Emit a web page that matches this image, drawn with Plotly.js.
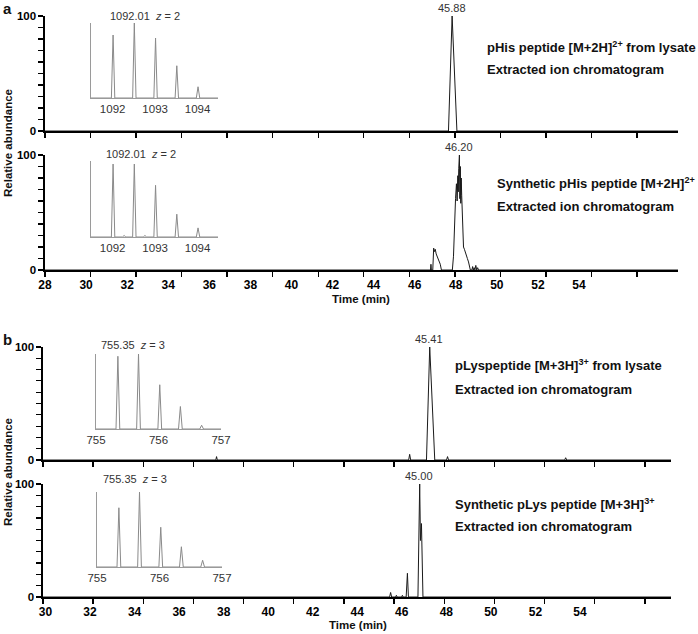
<!DOCTYPE html>
<html><head><meta charset="utf-8">
<script src="https://cdn.plot.ly/plotly-3.0.1.min.js"></script>
<style>html,body{margin:0;padding:0;background:#fff}#chart{width:698px;height:634px}</style>
</head><body><div id="chart"></div>
<script>
// ---------- data ----------
// Panel a: pHis peptide extracted ion chromatograms (time in min, relative abundance %)
const aTopTime  = [28, 45.72, 45.88, 46.09, 55.8];
const aTopAbund = [0, 0, 100, 0, 0];

const aBotTime  = [28, 44.93, 44.95, 44.97, 45.03, 45.07, 45.10, 45.14, 45.18, 45.22, 45.29, 45.36, 45.41,
                   45.89, 45.94, 45.98, 46.03, 46.07, 46.10, 46.13, 46.15, 46.17, 46.20, 46.22, 46.24, 46.26,
                   46.28, 46.30, 46.32, 46.35, 46.38, 46.42, 46.46, 46.50, 46.55, 46.60, 46.64, 46.68,
                   46.75, 46.78, 46.81, 46.85, 46.88, 46.92, 46.96, 47.00, 47.04, 47.08, 55.8];
const aBotAbund = [0, 0, 5, 0, 0, 19, 16, 18, 14, 12, 9, 5, 0,
                   0, 12, 38, 62, 75, 60, 82, 68, 88, 100, 62, 90, 58,
                   80, 65, 52, 35, 20, 18, 16, 13, 10, 7, 3, 0,
                   0, 3, 0, 2, 0, 4, 0, 2, 0, 0, 0];

// Panel b: pLys peptide extracted ion chromatograms
const bTopTime  = [30, 36.89, 36.92, 36.95, 44.58, 44.62, 44.66, 45.29, 45.42, 45.62, 46.09, 46.13, 46.17, 50.80, 50.84, 50.88, 55.04];
const bTopAbund = [0, 0, 3, 0, 0, 5, 0, 0, 100, 0, 0, 3, 0, 0, 2, 0, 0];

const bBotTime  = [30, 43.82, 43.86, 43.90, 44.06, 44.09, 44.12, 44.30, 44.33, 44.36, 44.48, 44.53, 44.57, 44.95, 45.02, 45.05, 45.09, 45.15, 55.04];
const bBotAbund = [0, 0, 4, 0, 0, 1.5, 0, 0, 1.5, 0, 0, 21, 0, 0, 100, 50, 65, 0, 0];

// Labelled peak retention times
const aTopPeakRT = 45.88, aBotPeakRT = 46.20, bTopPeakRT = 45.41, bBotPeakRT = 45.00;

// Axis tick labels
const aTickLabels = [28, 30, 32, 34, 36, 38, 40, 42, 44, 46, 48, 50, 52, 54];
const bTickLabels = [30, 32, 34, 36, 38, 40, 42, 44, 46, 48, 50, 52, 54];
const yTickLabels = [0, 100];

// Isotope envelopes (m/z, relative intensity)
const aTopIsoMz  = [1092.01, 1092.51, 1093.01, 1093.51, 1094.01];
const aTopIsoInt = [84, 100, 80, 43, 15];
const aBotIsoMz  = [1092.01, 1092.27, 1092.51, 1092.76, 1093.01, 1093.51, 1094.01];
const aBotIsoInt = [96, 2, 96, 2, 68, 30, 12];
const bTopIsoMz  = [755.35, 755.68, 756.02, 756.35, 756.69];
const bTopIsoInt = [97, 100, 59, 30, 5];
const bBotIsoMz  = [755.35, 755.68, 756.02, 756.35, 756.69];
const bBotIsoInt = [79, 100, 53, 27, 9];
const aIsoTicks = [1092, 1093, 1094];
const bIsoTicks = [755, 756, 757];

// ---------- helpers ----------
const W = 698, H = 634;
const X = p => p / W;
const Y = p => 1 - p / H;
const FONT = 'Liberation Sans, Arial, Helvetica, sans-serif';

function isoProfile(mz, inten, half, lo, hi) {
  const x = [lo], y = [0];
  mz.forEach((c, i) => { x.push(c - half, c, c + half); y.push(0, inten[i], 0); });
  x.push(hi); y.push(0);
  return {x, y};
}

function mainX(dom, range, anchor, tick0) {
  return {domain: dom, range, anchor, showline: true, linecolor: '#000', linewidth: 1.6,
    ticks: 'outside', ticklen: 5, tickwidth: 1.4, tickcolor: '#000', tickmode: 'linear', tick0, dtick: 2,
    showticklabels: false, showgrid: false, zeroline: false, fixedrange: true};
}
function mainY(dom, anchor) {
  return {domain: dom, range: [0, 100], anchor, showline: true, linecolor: '#000', linewidth: 1.6,
    ticks: 'outside', ticklen: 5, tickwidth: 1.2, tickcolor: '#000', tickmode: 'array',
    tickvals: yTickLabels,
    minor: {dtick: 10, tick0: 0, ticks: 'outside', ticklen: 5, tickwidth: 1.2, tickcolor: '#000', showgrid: false},
    tickfont: {family: FONT, size: 11.5, weight: 'bold', color: '#000'},
    showgrid: false, zeroline: false, fixedrange: true};
}
function labelX(over, anchor, range, vals) {
  return {overlaying: over, anchor, range, tickmode: 'array', tickvals: vals, ticks: 'outside', ticklen: 4,
    tickcolor: 'rgba(0,0,0,0)', showline: false, showgrid: false, zeroline: false, fixedrange: true,
    tickfont: {family: FONT, size: 12, weight: 'bold', color: '#000'}};
}
function insetX(dom, range, anchor, vals) {
  return {domain: dom, range, anchor, showline: true, linecolor: '#9a9a9a', linewidth: 1, ticks: '',
    tickmode: 'array', tickvals: vals, showgrid: false, zeroline: false, fixedrange: true,
    tickfont: {family: FONT, size: 11.5, color: '#333'}};
}
function insetY(dom, anchor) {
  return {domain: dom, range: [0, 100], anchor, showline: true, linecolor: '#9a9a9a', linewidth: 1,
    ticks: '', showticklabels: false, showgrid: false, zeroline: false, fixedrange: true};
}

const chromLine = {color: '#1a1a1a', width: 1};
const isoLine = {color: '#8a8a8a', width: 1};

const aRange = [28, 55.8], bRange = [30, 55.04];
const aIsoRange = [1091.49, 1094.48], bIsoRange = [755, 757];

const p5 = isoProfile(aTopIsoMz, aTopIsoInt, 0.04, aIsoRange[0], aIsoRange[1]);
const p6 = isoProfile(aBotIsoMz, aBotIsoInt, 0.04, aIsoRange[0], aIsoRange[1]);
const p7 = isoProfile(bTopIsoMz, bTopIsoInt, 0.03, bIsoRange[0], bIsoRange[1]);
const p8 = isoProfile(bBotIsoMz, bBotIsoInt, 0.03, bIsoRange[0], bIsoRange[1]);

const traces = [
  {x: aTopTime, y: aTopAbund, xaxis: 'x', yaxis: 'y', mode: 'lines', line: chromLine},
  {x: aBotTime, y: aBotAbund, xaxis: 'x2', yaxis: 'y2', mode: 'lines', line: chromLine},
  {x: bTopTime, y: bTopAbund, xaxis: 'x3', yaxis: 'y3', mode: 'lines', line: chromLine},
  {x: bBotTime, y: bBotAbund, xaxis: 'x4', yaxis: 'y4', mode: 'lines', line: chromLine},
  {x: p5.x, y: p5.y, xaxis: 'x5', yaxis: 'y5', mode: 'lines', line: isoLine},
  {x: p6.x, y: p6.y, xaxis: 'x6', yaxis: 'y6', mode: 'lines', line: isoLine},
  {x: p7.x, y: p7.y, xaxis: 'x7', yaxis: 'y7', mode: 'lines', line: isoLine},
  {x: p8.x, y: p8.y, xaxis: 'x8', yaxis: 'y8', mode: 'lines', line: isoLine},
  {x: [], y: [], xaxis: 'x9', yaxis: 'y2', mode: 'lines', hoverinfo: 'skip'},
  {x: [], y: [], xaxis: 'x10', yaxis: 'y4', mode: 'lines', hoverinfo: 'skip'}
];
traces.forEach(t => { t.showlegend = false; t.cliponaxis = false; });

const boldTxt = (text, px, py, size) => ({text, xref: 'paper', yref: 'paper', x: X(px), y: Y(py),
  xanchor: 'left', yanchor: 'middle', showarrow: false, font: {family: FONT, size: size || 13, weight: 'bold', color: '#111'}});
const peakTxt = (rt, xr, yr) => ({text: rt.toFixed(2), xref: xr, yref: yr, x: rt, y: 100, xanchor: 'center',
  yanchor: 'bottom', showarrow: false, font: {family: FONT, size: 11, color: '#333'}});
const isoTitle = (text, px, py) => ({text, xref: 'paper', yref: 'paper', x: X(px), y: Y(py), xanchor: 'left',
  yanchor: 'middle', showarrow: false, font: {family: FONT, size: 11, color: '#333'}});

const annotations = [
  boldTxt('a', 1, 8, 15), boldTxt('b', 1, 339, 15),
  peakTxt(aTopPeakRT, 'x', 'y'), peakTxt(aBotPeakRT, 'x2', 'y2'),
  peakTxt(bTopPeakRT, 'x3', 'y3'), peakTxt(bBotPeakRT, 'x4', 'y4'),
  isoTitle('1092.01&nbsp;&nbsp;<i>z</i> = 2', 108, 16),
  isoTitle('1092.01&nbsp;&nbsp;<i>z</i> = 2', 104, 154),
  isoTitle('755.35&nbsp;&nbsp;<i>z</i> = 3', 99, 345),
  isoTitle('755.35&nbsp;&nbsp;<i>z</i> = 3', 101, 479),
  boldTxt('pHis peptide [M+2H]<sup>2+</sup> from lysate', 485, 47),
  boldTxt('Extracted ion chromatogram', 485, 69),
  boldTxt('Synthetic pHis peptide [M+2H]<sup>2+</sup>', 495, 183),
  boldTxt('Extracted ion chromatogram', 495, 207),
  boldTxt('pLyspeptide [M+3H]<sup>3+</sup> from lysate', 453, 365),
  boldTxt('Extracted ion chromatogram', 453, 390),
  boldTxt('Synthetic pLys peptide [M+3H]<sup>3+</sup>', 453, 504),
  boldTxt('Extracted ion chromatogram', 453, 526),
  {text: 'Relative abundance', xref: 'paper', yref: 'paper', x: X(8), y: Y(143), xanchor: 'center', yanchor: 'middle',
   textangle: -90, showarrow: false, font: {family: FONT, size: 11.5, weight: 'bold', color: '#111'}},
  {text: 'Relative abundance', xref: 'paper', yref: 'paper', x: X(8), y: Y(472), xanchor: 'center', yanchor: 'middle',
   textangle: -90, showarrow: false, font: {family: FONT, size: 11.5, weight: 'bold', color: '#111'}},
  {text: 'Time (min)', xref: 'paper', yref: 'paper', x: X(361), y: Y(299), xanchor: 'center', yanchor: 'middle',
   showarrow: false, font: {family: FONT, size: 11.5, weight: 'bold', color: '#111'}},
  {text: 'Time (min)', xref: 'paper', yref: 'paper', x: X(358), y: Y(625), xanchor: 'center', yanchor: 'middle',
   showarrow: false, font: {family: FONT, size: 11.5, weight: 'bold', color: '#111'}}
];

const layout = {
  width: W, height: H, autosize: false, margin: {l: 0, r: 0, t: 0, b: 0, pad: 0},
  paper_bgcolor: '#fff', plot_bgcolor: 'rgba(0,0,0,0)', showlegend: false,
  font: {family: FONT, size: 11, color: '#111'},
  xaxis:  mainX([X(45), X(678)], aRange, 'y', 28),
  yaxis:  mainY([Y(131), Y(16)], 'x'),
  xaxis2: mainX([X(45), X(678)], aRange, 'y2', 28),
  yaxis2: mainY([Y(270), Y(155)], 'x2'),
  xaxis3: mainX([X(43), X(671)], bRange, 'y3', 30),
  yaxis3: mainY([Y(460), Y(347)], 'x3'),
  xaxis4: mainX([X(43), X(671)], bRange, 'y4', 30),
  yaxis4: mainY([Y(597), Y(484)], 'x4'),
  xaxis5: insetX([X(91), X(218)], aIsoRange, 'y5', aIsoTicks),
  yaxis5: insetY([Y(98), Y(23)], 'x5'),
  xaxis6: insetX([X(91), X(218)], aIsoRange, 'y6', aIsoTicks),
  yaxis6: insetY([Y(237), Y(161)], 'x6'),
  xaxis7: insetX([X(96), X(221)], bIsoRange, 'y7', bIsoTicks),
  yaxis7: insetY([Y(429), Y(354)], 'x7'),
  xaxis8: insetX([X(97), X(222)], bIsoRange, 'y8', bIsoTicks),
  yaxis8: insetY([Y(567), Y(492)], 'x8'),
  xaxis9:  labelX('x2', 'y2', [28, 58.82], aTickLabels),
  xaxis10: labelX('x4', 'y4', [29.888, 58.09], bTickLabels),
  annotations
};

Plotly.newPlot('chart', traces, layout, {staticPlot: true, displayModeBar: false});
</script>
</body></html>
